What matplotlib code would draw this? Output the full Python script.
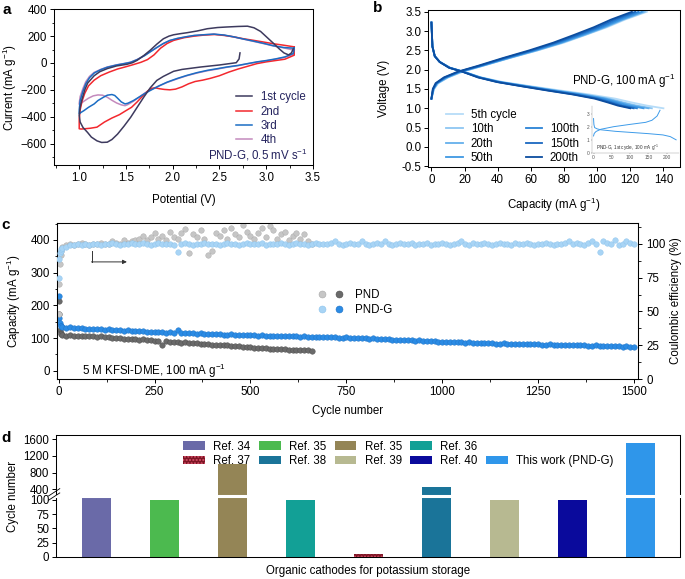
import numpy as np
import matplotlib.pyplot as plt
from matplotlib.lines import Line2D
from matplotlib.patches import Patch
from matplotlib.legend_handler import HandlerTuple
from matplotlib.ticker import MultipleLocator, FormatStrFormatter

# ---------------- panel a: CV curves (potential V, current mA/g) ----------------
cv1_v = [2.72, 2.71, 2.68, 2.50, 2.30, 2.10, 2.01, 1.90, 1.83, 1.76, 1.69, 1.62, 1.55, 1.48, 1.41,
         1.35, 1.30, 1.24, 1.19, 1.13, 1.09, 1.04, 1.01, 1.00, 1.01, 1.03, 1.06, 1.09, 1.16, 1.22,
         1.30, 1.40, 1.51, 1.57, 1.62, 1.69, 1.76, 1.83, 1.90, 1.96, 2.01, 2.08, 2.15, 2.26, 2.37,
         2.48, 2.58, 2.70, 2.80, 2.87, 2.94, 3.01, 3.08, 3.14, 3.19, 3.24, 3.27, 3.29]
cv1_i = [75, 30, 2, -15, -30, -48, -62, -100, -130, -185, -255, -330, -405, -470, -530,
         -570, -590, -592, -580, -552, -518, -480, -440, -390, -330, -270, -200, -150, -95, -65,
         -42, -22, -10, 2, 20, 55, 95, 140, 180, 200, 210, 218, 225, 238, 255,
         264, 268, 272, 274, 262, 235, 190, 145, 105, 75, 60, 75, 105]
cv2_v = [3.30, 3.30, 3.20, 3.10, 3.00, 2.90, 2.80, 2.70, 2.60, 2.50, 2.40, 2.32, 2.24, 2.17, 2.10,
         2.03, 1.97, 1.91, 1.86, 1.81, 1.77, 1.73, 1.68, 1.62, 1.56, 1.50, 1.43, 1.35, 1.27, 1.19,
         1.12, 1.06, 1.02, 1.00, 1.00, 1.01, 1.03, 1.06, 1.10, 1.16, 1.23, 1.32, 1.41, 1.50, 1.58,
         1.66, 1.73, 1.80, 1.87, 1.94, 2.01, 2.12, 2.23, 2.34, 2.45, 2.55, 2.65, 2.76, 2.87, 2.98,
         3.08, 3.19, 3.30]
cv2_i = [120, 58, 28, 18, 8, -5, -25, -45, -68, -95, -115, -128, -138, -155, -178,
         -195, -200, -197, -192, -185, -190, -210, -245, -290, -330, -355, -385, -410, -440, -478,
         -486, -490, -492, -490, -420, -350, -285, -225, -170, -128, -95, -68, -45, -28, -12,
         5, 25, 60, 110, 145, 168, 188, 200, 208, 212, 205, 195, 180, 168, 155,
         143, 132, 120]
cv3_v = [3.30, 3.29, 3.20, 3.10, 3.00, 2.90, 2.80, 2.70, 2.58, 2.48, 2.37, 2.26, 2.15, 2.05, 1.94,
         1.85, 1.76, 1.70, 1.65, 1.58, 1.52, 1.49, 1.45, 1.41, 1.38, 1.35, 1.30, 1.26, 1.20, 1.16,
         1.10, 1.05, 1.02, 1.00, 1.00, 1.01, 1.04, 1.07, 1.11, 1.16, 1.23, 1.30, 1.40, 1.48, 1.55,
         1.62, 1.70, 1.76, 1.83, 1.90, 1.97, 2.05, 2.15, 2.23, 2.33, 2.44, 2.55, 2.65, 2.76, 2.87,
         2.98, 3.08, 3.19, 3.30]
cv3_i = [110, 70, 45, 30, 18, 8, -5, -18, -30, -42, -55, -72, -93, -115, -143,
         -172, -205, -228, -250, -280, -300, -305, -290, -262, -242, -235, -240, -255, -280, -305,
         -330, -355, -368, -378, -350, -280, -210, -155, -110, -75, -50, -32, -15, -5, 5,
         25, 55, 83, 115, 145, 168, 183, 196, 205, 210, 215, 208, 195, 178, 162,
         145, 128, 115, 110]
cv4_v = [3.30, 3.29, 3.20, 3.10, 3.00, 2.90, 2.80, 2.70, 2.58, 2.48, 2.37, 2.26, 2.15, 2.05, 1.94,
         1.85, 1.76, 1.70, 1.65, 1.58, 1.52, 1.49, 1.45, 1.40, 1.35, 1.30, 1.25, 1.20, 1.15, 1.10,
         1.05, 1.02, 1.00, 1.00, 1.01, 1.04, 1.07, 1.11, 1.16, 1.23, 1.30, 1.40, 1.48, 1.55, 1.62,
         1.70, 1.76, 1.83, 1.90, 1.97, 2.05, 2.15, 2.23, 2.33, 2.44, 2.55, 2.65, 2.76, 2.87, 2.98,
         3.08, 3.19, 3.30]
cv4_i = [95, 65, 42, 28, 16, 6, -6, -20, -32, -45, -58, -75, -95, -118, -145,
         -172, -200, -225, -250, -285, -310, -318, -312, -298, -278, -255, -240, -238, -245, -262,
         -285, -300, -308, -300, -250, -190, -140, -100, -70, -48, -30, -14, -4, 6, 26,
         56, 84, 115, 145, 167, 182, 195, 204, 210, 214, 207, 194, 177, 160, 143,
         126, 112, 95]
cv_labels = ['1st cycle', '2nd', '3rd', '4th']
cv_colors = ['#3d3a5e', '#f3282e', '#1b6dc4', '#c48abd']

# ---------------- panel b: charge/discharge profiles ----------------
b_labels = ['5th cycle', '10th', '20th', '50th', '100th', '150th', '200th']
b_colors = ['#b6dcf8', '#8dc6f2', '#65b0ec', '#3f98e3', '#2a82d6', '#1a68c0', '#0c4d9f']
chg_v = [1.25, 1.50, 1.65, 1.80, 1.95, 2.10, 2.30, 2.50, 2.70, 2.90, 3.10, 3.30, 3.50]
chg_5 = [0, 1.5, 4.0, 10.0, 19.0, 31.0, 47.0, 64.0, 80.0, 93.0, 106.0, 117.0, 130.0]
chg_10 = [0, 1.5, 4.0, 10.0, 18.5, 31.0, 47.0, 64.0, 79.0, 92.5, 105.0, 116.0, 129.0]
chg_20 = [0, 1.3, 3.5, 9.5, 18.0, 30.5, 46.5, 63.0, 78.5, 92.0, 104.5, 115.5, 128.0]
chg_50 = [0, 1.2, 3.3, 9.0, 17.5, 30.0, 46.0, 62.5, 78.0, 91.0, 103.5, 114.5, 127.0]
chg_100 = [0, 1.0, 3.0, 8.5, 17.0, 29.5, 45.0, 61.5, 76.5, 89.5, 102.0, 112.5, 125.0]
chg_150 = [0, 1.0, 3.0, 8.0, 16.5, 29.0, 44.0, 60.5, 75.0, 88.0, 100.0, 110.5, 123.0]
chg_200 = [0, 0.8, 2.5, 7.5, 16.0, 28.0, 43.0, 59.0, 73.5, 86.0, 98.0, 108.5, 121.0]
dis_v = [3.22, 2.60, 2.35, 2.20, 2.05, 1.95, 1.80, 1.68, 1.57, 1.46, 1.36, 1.25, 1.15, 1.07, 1.00]
dis_5 = [0, 0.6, 2, 5, 11.5, 19.5, 30, 43, 60, 78, 95, 111, 121, 130, 140]
dis_10 = [0, 0.6, 2, 5, 11, 19, 29.5, 42, 58.5, 75.5, 92, 107, 116, 124, 133]
dis_20 = [0, 0.6, 2, 5, 11, 19, 29.5, 41.5, 58, 74.5, 91, 105.5, 114.5, 122, 131]
dis_50 = [0, 0.6, 2, 5, 11, 19, 29, 41, 57, 73.5, 89.5, 104, 112.5, 119, 128]
dis_100 = [0, 0.6, 2, 5, 11, 19, 29, 40.5, 56, 72, 87.5, 101.5, 110, 116, 124]
dis_150 = [0, 0.6, 2, 5, 11, 18.5, 28.5, 40, 55, 71, 86, 100, 108, 114, 122]
dis_200 = [0, 0.6, 2, 5, 10.5, 18.5, 28, 39.5, 54.5, 70, 85, 98.5, 106.5, 112.5, 120]
# inset: 1st cycle
ins_chg_q = [0, 2, 7, 20, 55, 100, 143, 160, 174, 182]
ins_chg_v = [1.30, 1.50, 1.65, 1.82, 2.02, 2.20, 2.36, 2.52, 2.85, 3.30]
ins_dis_q = [0, 1, 3, 10, 20, 60, 100, 150, 190, 210, 226]
ins_dis_v = [2.65, 2.20, 1.95, 1.85, 1.78, 1.66, 1.58, 1.48, 1.38, 1.25, 1.00]

# ---------------- panel c: long cycling ----------------
cyc_g = [1, 2, 3, 5, 7] + list(range(10, 1501, 10))
cap_g = [228, 163, 145, 138, 136,
         134, 132, 133, 131, 130, 131, 129, 128, 129, 127,
         127, 126, 127, 125, 124, 125, 123, 124, 122, 122,
         121, 122, 120, 119, 120, 118, 119, 117, 118, 116,
         124, 116, 117, 115, 115, 114, 115, 113, 113, 112,
         112, 113, 111, 111, 112, 110, 110, 109, 110, 109,
         109, 108, 109, 107, 108, 107, 106, 107, 106, 105,
         106, 105, 104, 105, 104, 104, 103, 104, 103, 102,
         102, 103, 101, 101, 102, 100, 100, 101, 99, 99,
         98, 99, 97, 97, 96, 97, 95, 95, 94, 95,
         93, 93, 92, 93, 91, 91, 90, 91, 89, 89,
         89, 88, 89, 87, 87, 86, 87, 85, 85, 86,
         84, 84, 85, 83, 83, 84, 83, 82, 82, 83,
         82, 81, 81, 82, 81, 80, 80, 81, 80, 79,
         79, 80, 79, 78, 78, 79, 78, 77, 77, 78,
         76, 77, 76, 75, 76, 75, 74, 75, 73, 74]
ce_g = [75, 89, 93, 95, 96,
        97, 98, 99, 99, 100, 99, 100, 99, 100, 100,
        99, 100, 100, 101, 100, 99, 100, 100, 101, 100,
        100, 101, 100, 99, 100, 101, 100, 100, 100, 99,
        94, 100, 101, 100, 99, 100, 100, 101, 100, 100,
        100, 99, 100, 101, 100, 100, 99, 100, 101, 100,
        100, 100, 101, 99, 100, 100, 100, 101, 100, 99,
        100, 101, 100, 100, 99, 100, 101, 100, 100, 100,
        101, 102, 100, 99, 100, 101, 100, 100, 102, 100,
        99, 100, 101, 100, 102, 100, 99, 100, 101, 100,
        100, 101, 99, 100, 100, 101, 99, 100, 100, 101,
        100, 99, 100, 101, 102, 100, 99, 101, 100, 100,
        101, 100, 99, 100, 101, 100, 100, 99, 101, 100,
        100, 101, 100, 99, 100, 100, 101, 100, 99, 100,
        100, 101, 102, 100, 101, 100, 99, 101, 102, 100,
        94, 102, 101, 100, 103, 99, 100, 102, 101, 100]
cyc_p = [1, 2, 3, 5, 7] + list(range(10, 661, 10))
cap_p = [212, 174, 125, 115, 112,
         109, 108, 110, 107, 108, 106, 107, 105, 106, 104,
         105, 103, 102, 101, 100, 99, 98, 97, 97, 96,
         95, 96, 94, 93, 92, 91, 80, 90, 89, 88,
         87, 86, 87, 85, 84, 84, 83, 82, 81, 80,
         80, 79, 78, 78, 77, 76, 75, 74, 73, 72,
         71, 70, 70, 69, 68, 68, 67, 66, 66, 65,
         65, 64, 64, 63, 63, 62]
ce_p = [48, 70, 85, 92, 95,
        98, 99, 100, 99, 100, 101, 100, 99, 100, 100,
        101, 100, 100, 102, 101, 100, 103, 101, 102, 103,
        104, 106, 103, 105, 108, 104, 106, 103, 109, 105,
        104, 108, 111, 93, 107, 105, 110, 104, 92, 95,
        108, 106, 110, 104, 112, 107, 105, 114, 109, 106,
        104, 108, 112, 105, 113, 110, 104, 107, 109, 103,
        106, 108, 104, 107, 102, 100]

# ---------------- panel d: comparison ----------------
ref_labels = ['Ref. 34', 'Ref. 35', 'Ref. 35', 'Ref. 36', 'Ref. 37',
              'Ref. 38', 'Ref. 39', 'Ref. 40', 'This work (PND-G)']
ref_cycles = [200, 100, 1000, 100, 5, 450, 100, 100, 1500]
ref_colors = ['#6a6aa8', '#4cba4f', '#948556', '#12a096', '#7d1524',
              '#1a7499', '#b7b991', '#0a0a9c', '#2f96ea']
ref_hatch = [None, None, None, None, '.....', None, None, None, None]

navy = '#24235e'

plt.rcParams.update({
    'font.family': ['Liberation Sans', 'DejaVu Sans'],
    'font.size': 8.3,
    'mathtext.fontset': 'custom',
    'mathtext.rm': 'Liberation Sans',
    'mathtext.it': 'Liberation Sans:italic',
    'mathtext.bf': 'Liberation Sans:bold',
    'axes.linewidth': 0.75,
    'xtick.major.size': 3, 'ytick.major.size': 3,
    'xtick.minor.size': 1.8, 'ytick.minor.size': 1.8,
    'xtick.major.width': 0.7, 'ytick.major.width': 0.7,
    'xtick.minor.width': 0.6, 'ytick.minor.width': 0.6,
    'xtick.major.pad': 2, 'ytick.major.pad': 2,
    'hatch.linewidth': 1.0,
})

fig = plt.figure(figsize=(6.85, 5.79), dpi=100)

# ---- a ----
ax = fig.add_axes([0.0788, 0.715, 0.378, 0.269])
cv_data = [(cv1_v, cv1_i), (cv2_v, cv2_i), (cv3_v, cv3_i), (cv4_v, cv4_i)]
zorders = [5, 3, 4, 2]
handles = []
for (v, i), col, lab, z in zip(cv_data, cv_colors, cv_labels, zorders):
    ln, = ax.plot(v, i, color=col, lw=1.1, label=lab, zorder=z)
    handles.append(ln)
ax.set_xlim(0.73, 3.5)
ax.set_ylim(-760, 400)
ax.xaxis.set_major_locator(MultipleLocator(0.5))
ax.xaxis.set_minor_locator(MultipleLocator(0.25))
ax.xaxis.set_major_formatter(FormatStrFormatter('%.1f'))
ax.yaxis.set_major_locator(MultipleLocator(200))
ax.yaxis.set_minor_locator(MultipleLocator(100))
ax.set_xlabel('Potential (V)', labelpad=7)
ax.set_ylabel('Current (mA g$^{-1}$)', labelpad=1)
leg = ax.legend(handles=handles, loc='upper left', bbox_to_anchor=(0.68, 0.51), frameon=False,
                handlelength=1.4, handletextpad=0.75, labelspacing=0.2, borderpad=0)
for t in leg.get_texts():
    t.set_color(navy)
ax.text(0.98, 0.064, 'PND-G, 0.5 mV s$^{-1}$', color=navy, ha='right', va='center',
        transform=ax.transAxes)

# ---- b ----
ax = fig.add_axes([0.625, 0.7116, 0.3677, 0.2714])
chg_caps = [chg_5, chg_10, chg_20, chg_50, chg_100, chg_150, chg_200]
dis_caps = [dis_5, dis_10, dis_20, dis_50, dis_100, dis_150, dis_200]
bh = []
for qc, qd, col, lab in zip(chg_caps, dis_caps, b_colors, b_labels):
    ln, = ax.plot(qc, chg_v, color=col, lw=1.3, label=lab)
    ax.plot(qd, dis_v, color=col, lw=1.3)
    bh.append(ln)
ax.set_xlim(-2, 150)
ax.set_ylim(-0.52, 3.55)
ax.xaxis.set_major_locator(MultipleLocator(20))
ax.yaxis.set_major_locator(MultipleLocator(0.5))
ax.yaxis.set_major_formatter(FormatStrFormatter('%.1f'))
ax.set_xlabel('Capacity (mA g$^{-1}$)', labelpad=7)
ax.set_ylabel('Voltage (V)', labelpad=8)
blank = Line2D([], [], color='none')
ax.legend(handles=bh[:4] + [blank] + bh[4:], labels=b_labels[:4] + [''] + b_labels[4:],
          ncol=2, loc='upper left', bbox_to_anchor=(0.05, 0.405), frameon=False,
          handlelength=1.4, handletextpad=0.7, labelspacing=0.2, columnspacing=0.8,
          borderpad=0)
ax.text(0.984, 0.548, 'PND-G, 100 mA g$^{-1}$', ha='right', va='center', transform=ax.transAxes)

ins = fig.add_axes([0.8638, 0.7363, 0.128, 0.08])
ins.plot(ins_chg_q, ins_chg_v, color='#3d9be9', lw=0.7)
ins.plot(ins_dis_q, ins_dis_v, color='#3d9be9', lw=0.7)
ins.set_xlim(-5, 235)
ins.set_ylim(0, 3.6)
ins.set_xticks([0, 50, 100, 150, 200])
ins.set_yticks([0, 1, 2, 3])
ins.tick_params(labelsize=3.5, length=1, width=0.3, pad=0.8, colors='#555555')
ins.spines[['top', 'right']].set_visible(False)
ins.spines[['left', 'bottom']].set_linewidth(0.3)
ins.spines[['left', 'bottom']].set_color('#999999')
ins.patch.set_alpha(0)
ins.text(0.05, 0.1, 'PND-G, 1st cycle, 100 mA g$^{-1}$', fontsize=3.3, color='#333333',
         transform=ins.transAxes, va='center')

# ---- c ----
ax = fig.add_axes([0.0828, 0.3454, 0.849, 0.2695])
ax2 = ax.twinx()
col_pnd_ce, col_pnd_cap = '#c6c6c6', '#6a6a6a'
col_g_ce, col_g_cap = '#a8d4f5', '#2b8be4'
ax.scatter(cyc_p, cap_p, s=16, c=col_pnd_cap, edgecolors='#4d4d4d', linewidths=0.3, zorder=2)
ax.scatter(cyc_g, cap_g, s=16, c=col_g_cap, edgecolors='#1f72c6', linewidths=0.3, zorder=3)
ax2.scatter(cyc_p, ce_p, s=16, c=col_pnd_ce, edgecolors='#a8a8a8', linewidths=0.3, zorder=2)
ax2.scatter(cyc_g, ce_g, s=16, c=col_g_ce, edgecolors='#8cc3ec', linewidths=0.3, zorder=3)
ax.set_xlim(-5, 1511)
ax.set_ylim(-25, 452)
ax2.set_ylim(0, 115.5)
ax.xaxis.set_major_locator(MultipleLocator(250))
ax.xaxis.set_minor_locator(MultipleLocator(125))
ax.yaxis.set_major_locator(MultipleLocator(100))
ax.yaxis.set_minor_locator(MultipleLocator(50))
ax2.yaxis.set_major_locator(MultipleLocator(25))
ax2.yaxis.set_minor_locator(MultipleLocator(12.5))
ax2.tick_params(axis='y', which='major', pad=3)
ax.set_xlabel('Cycle number', labelpad=5)
ax.set_ylabel('Capacity (mA g$^{-1}$)', labelpad=5)
ax2.set_ylabel('Coulombic efficiency (%)', labelpad=3)
ax.plot([86, 86], [366, 333], color='#333333', lw=0.7)
ax.annotate('', xy=(178, 333), xytext=(85.5, 333),
            arrowprops=dict(arrowstyle='-|>', color='#333333', lw=0.7, mutation_scale=6,
                            shrinkA=0, shrinkB=0))
ax.text(0.043, 0.05, '5 M KFSI-DME, 100 mA g$^{-1}$', transform=ax.transAxes, va='center')
mk = dict(ls='none', marker='o', ms=5, mew=0.4)
h_p = (Line2D([], [], mfc=col_pnd_ce, mec='#a8a8a8', **mk), Line2D([], [], mfc=col_pnd_cap, mec='#4d4d4d', **mk))
h_g = (Line2D([], [], mfc=col_g_ce, mec='#8cc3ec', **mk), Line2D([], [], mfc=col_g_cap, mec='#1f72c6', **mk))
ax2.legend([h_p, h_g], ['PND', 'PND-G'], handler_map={tuple: HandlerTuple(ndivide=None, pad=0.5)},
           loc='upper left', bbox_to_anchor=(0.437, 0.615), frameon=False, handlelength=2.4,
           handletextpad=0.9, labelspacing=0.3, borderpad=0)

# ---- d (broken axis) ----
x = np.arange(len(ref_cycles))
ax_up = fig.add_axes([0.0818, 0.1434, 0.911, 0.1053])
ax_lo = fig.add_axes([0.0818, 0.038, 0.911, 0.1054])
for a in (ax_up, ax_lo):
    for xi, val, col, h in zip(x, ref_cycles, ref_colors, ref_hatch):
        a.bar(xi, val, width=0.43, color=col, edgecolor='#d8506a' if h else col,
              hatch=h, linewidth=0)
    a.set_xlim(-0.59, 8.58)
    a.set_xticks([])
ax_up.set_ylim(240, 1700)
ax_lo.set_ylim(0, 107)
ax_up.set_yticks([400, 800, 1200, 1600])
ax_lo.set_yticks([0, 25, 50, 75, 100])
ax_up.spines['bottom'].set_visible(False)
ax_lo.spines['top'].set_visible(False)
ax_lo.axhline(107, xmin=0.0, xmax=0.998, color='white', lw=2.2, clip_on=False, zorder=5)
for dy in (0.0, 0.07):
    ax_lo.plot([-0.012, 0.006], [0.93 + dy, 1.05 + dy], transform=ax_lo.transAxes, color='black',
               lw=0.6, clip_on=False, zorder=6)

leg_handles = [Patch(facecolor=c, edgecolor='#d8506a' if h else c, hatch=h, linewidth=0)
               for c, h in zip(ref_colors, ref_hatch)]
order = [0, 4, 1, 5, 2, 6, 3, 7, None, 8]
hh = [leg_handles[k] if k is not None else Patch(facecolor='none', edgecolor='none') for k in order]
ll = [ref_labels[k] if k is not None else '' for k in order]
ax_up.legend(hh, ll, ncol=5, loc='upper left', bbox_to_anchor=(0.194, 1.0), frameon=False,
             handlelength=1.9, handleheight=0.8, handletextpad=0.7, columnspacing=0.75,
             labelspacing=0.2, borderpad=0)

fig.text(0.019, 1 - 496 / 579, 'Cycle number', rotation=90, ha='center', va='center')
fig.text(368 / 685, 1 - 570.7 / 579, 'Organic cathodes for potassium storage', ha='center', va='center')

# panel letters
for lab, px, py in [('a', 7, 10), ('b', 378, 8), ('c', 6, 225), ('d', 6, 438)]:
    fig.text(px / 685, 1 - py / 579, lab, fontsize=11, fontweight='bold', ha='center', va='center')

fig.savefig('out.png', dpi=100)
